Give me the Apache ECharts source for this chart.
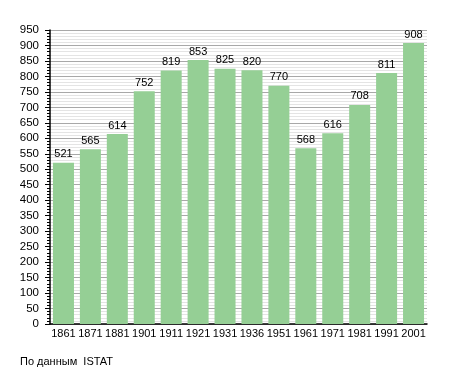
<!DOCTYPE html>
<html><head><meta charset="utf-8">
<script src="https://cdn.jsdelivr.net/npm/echarts@6/dist/echarts.min.js"></script>
<style>html,body{margin:0;padding:0;background:#fff}#c{width:455px;height:373px}</style>
</head><body><div id="c"></div>
<script>
var years = ['1861','1871','1881','1901','1911','1921','1931','1936','1951','1961','1971','1981','1991','2001'];
var population = [521,565,614,752,819,853,825,820,770,568,616,708,811,908];
var yTicks = {min:0, max:950, step:50};
var sourceText = 'По данным  ISTAT';

var chart = echarts.init(document.getElementById('c'), null, {renderer:'canvas'});
chart.setOption({
  animation:false,
  backgroundColor:'#fff',
  grid:{left:50, right:28, top:30, bottom:49},
  graphic:[{type:'text', left:20, top:356, style:{text:sourceText, fill:'#000', font:'11px "Liberation Sans", Arial, sans-serif'}}],
  xAxis:{
    type:'category', data:years,
    axisLine:{lineStyle:{color:'#000', width:1.5}},
    axisTick:{show:false},
    axisLabel:{color:'#000', fontSize:11, fontFamily:'Liberation Sans, Arial, sans-serif', margin:4, interval:0}
  },
  yAxis:{
    type:'value', min:yTicks.min, max:yTicks.max, interval:yTicks.step,
    axisLine:{show:true, lineStyle:{color:'#000', width:1.5}},
    axisTick:{show:true, length:5, lineStyle:{color:'#000'}},
    minorTick:{show:true, splitNumber:5, length:3, lineStyle:{color:'#000'}},
    splitLine:{show:true, lineStyle:{color:'#a8a8a8', width:1}},
    minorSplitLine:{show:true, lineStyle:{color:'#e4e4e4', width:1}},
    axisLabel:{color:'#000', fontSize:11.5, fontFamily:'Liberation Sans, Arial, sans-serif', margin:11}
  },
  series:[{
    type:'bar', data:population, barCategoryGap:'22%',
    itemStyle:{color:'#95cf95'},
    label:{show:true, position:'top', color:'#000', fontSize:11, fontFamily:'Liberation Sans, Arial, sans-serif', distance:3}
  }]
});
</script></body></html>
